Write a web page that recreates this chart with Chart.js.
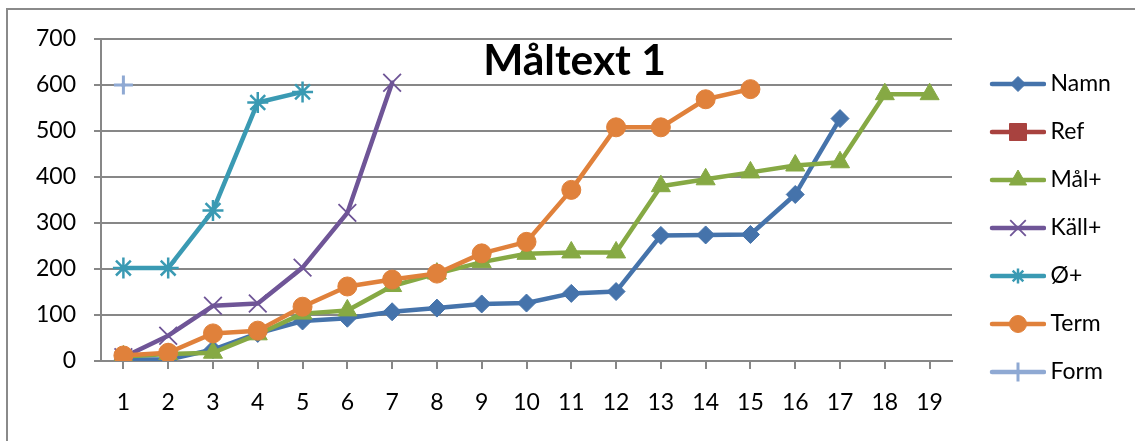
<!DOCTYPE html>
<html>
<head>
<meta charset="utf-8">
<script src="https://cdn.jsdelivr.net/npm/chart.js@4.4.1/dist/chart.umd.min.js"></script>
<style>
  html, body { margin: 0; padding: 0; background: #ffffff; }
  #wrap { width: 1135px; height: 441px; }
</style>
</head>
<body>
<div id="wrap"><canvas id="chart" width="1135" height="441"></canvas></div>
<script>
// Categories along the x axis
const categories = ['1','2','3','4','5','6','7','8','9','10','11','12','13','14','15','16','17','18','19'];

// Series values (null = no value for that category)
const namn     = [3, 3, 25, 60, 87, 93, 107, 115, 124, 126, 147, 151, 273, 274, 275, 362, 527, null, null];
const ref      = [];
const malPlus  = [10, 15, 18, 58, 103, 110, 163, 190, 215, 233, 236, 236, 380, 395, 410, 425, 432, 580, 580];
const kallPlus = [8, 55, 120, 125, 203, 322, 605];
const oPlus    = [202, 202, 327, 562, 585];
const term     = [12, 18, 60, 66, 118, 162, 177, 190, 234, 259, 372, 508, 508, 569, 591];
const form     = [600];

// Y axis range and step
const yMin = 0;
const yMax = 700;
const yStep = 100;

const TITLE = 'Måltext 1';
const FONT = 'Lato';
const FONT_SIZE = 23;
const GRID = '#878787';

const seriesDefs = [
  { label: 'Namn',  data: namn,     color: '#4573AB', style: 'rectRot',  r: 9,    lr: 7.5, bw: 1 },
  { label: 'Ref',   data: ref,      color: '#A8423F', style: 'rect',     r: 12,   lr: 12,  bw: 1 },
  { label: 'Mål+',  data: malPlus,  color: '#86A944', style: 'triangle', r: 11,   lr: 10,  bw: 1 },
  { label: 'Käll+', data: kallPlus, color: '#6F5597', style: 'crossRot', r: 12.5, lr: 11,  bw: 1.8 },
  { label: 'Ø+',    data: oPlus,    color: '#3A9AB3', style: 'star',     r: 10.5, lr: 7.5, bw: 2.5 },
  { label: 'Term',  data: term,     color: '#E0813B', style: 'circle',   r: 9.5,  lr: 8.5, bw: 1 },
  { label: 'Form',  data: form,     color: '#8FA9D3', style: 'cross',    r: 9.5,  lr: 9.5, bw: 3 }
];

// Legend geometry
const LEG_PAD = 25;     // vertical gap between legend rows
const BOX_W = 62;       // reserved width of the legend symbol
const SYM_W = 76, SYM_H = 30, LINE_FROM = 22, LINE_TO = 74, MARK_X = 48;

// Legend symbols: a short line with the series marker in the middle
function legendSymbol(def) {
  const c = document.createElement('canvas');
  c.width = SYM_W; c.height = SYM_H;
  const g = c.getContext('2d');
  g.strokeStyle = def.color;
  g.fillStyle = def.color;
  g.lineWidth = 4.5;
  g.lineCap = 'round';
  g.beginPath();
  g.moveTo(LINE_FROM, SYM_H / 2);
  g.lineTo(LINE_TO, SYM_H / 2);
  g.stroke();
  g.lineWidth = def.bw;
  g.lineCap = 'butt';
  Chart.helpers.drawPoint(g, { pointStyle: def.style, radius: def.lr, rotation: 0, borderWidth: def.bw }, MARK_X, SYM_H / 2);
  return c;
}
const symbols = seriesDefs.map(legendSymbol);

// Right padding so that the plot ends where the legend begins
const measure = document.createElement('canvas').getContext('2d');
measure.font = 'normal ' + FONT_SIZE + 'px ' + FONT;
const maxText = Math.max(...seriesDefs.map(d => measure.measureText(d.label).width));
const PLOT_RIGHT = 952;
const legendWidth = LEG_PAD + BOX_W + FONT_SIZE / 2 + maxText + 10;
const padRight = Math.max(0, 1135 - PLOT_RIGHT - legendWidth);

// Outer frame of the chart object
const framePlugin = {
  id: 'frame',
  beforeDraw(chart) {
    const ctx = chart.ctx;
    ctx.save();
    ctx.fillStyle = '#ffffff';
    ctx.fillRect(0, 0, chart.width, chart.height);
    ctx.strokeStyle = '#8a8a8a';
    ctx.lineWidth = 2;
    ctx.strokeRect(7, 9, chart.width + 20, chart.height + 20);
    ctx.restore();
  }
};

// Title overlaid on the top of the plot area
const titlePlugin = {
  id: 'overlayTitle',
  afterDraw(chart) {
    const ctx = chart.ctx;
    ctx.save();
    ctx.font = 'bold 42.5px ' + FONT;
    ctx.fillStyle = '#000000';
    ctx.textAlign = 'center';
    ctx.textBaseline = 'alphabetic';
    ctx.fillText(TITLE, chart.width / 2 + 7, 75);
    ctx.restore();
  }
};

Chart.defaults.font.family = FONT;
Chart.defaults.font.size = FONT_SIZE;
Chart.defaults.color = '#000000';

const datasets = seriesDefs.map((d, i) => ({
  label: d.label,
  data: d.data,
  borderColor: d.color,
  backgroundColor: d.color,
  borderWidth: 4.5,
  borderJoinStyle: 'round',
  borderCapStyle: 'round',
  tension: 0,
  pointStyle: d.style,
  pointRadius: d.r,
  pointHoverRadius: d.r,
  pointBackgroundColor: d.color,
  pointBorderColor: d.color,
  pointBorderWidth: d.bw,
  order: seriesDefs.length - 1 - i,
  fill: false
}));

new Chart(document.getElementById('chart'), {
  type: 'line',
  data: { labels: categories, datasets },
  plugins: [framePlugin, titlePlugin],
  options: {
    responsive: false,
    animation: false,
    devicePixelRatio: 1,
    layout: { padding: { left: 0, top: 39, right: padRight, bottom: 24 } },
    plugins: {
      title: { display: false },
      tooltip: { enabled: false },
      legend: {
        position: 'right',
        align: 'center',
        labels: {
          usePointStyle: true,
          pointStyleWidth: BOX_W,
          padding: LEG_PAD,
          color: '#000000',
          font: { family: FONT, size: FONT_SIZE },
          sort: (a, b) => a.datasetIndex - b.datasetIndex,
          generateLabels(chart) {
            const items = Chart.defaults.plugins.legend.labels.generateLabels(chart);
            items.forEach(it => { it.pointStyle = symbols[it.datasetIndex]; });
            return items;
          }
        }
      }
    },
    scales: {
      x: {
        type: 'category',
        offset: true,
        grid: { display: true, drawOnChartArea: false, drawTicks: true, tickLength: 8, color: GRID, lineWidth: 2 },
        border: { display: true, color: GRID, width: 2 },
        ticks: { autoSkip: false, maxRotation: 0, padding: 20, color: '#000000', font: { size: FONT_SIZE } },
        afterFit(scale) { scale.height = 56; }
      },
      y: {
        min: yMin,
        max: yMax,
        grid: { color: GRID, lineWidth: 2, drawTicks: true, tickLength: 7 },
        border: { display: true, color: GRID, width: 2 },
        ticks: { stepSize: yStep, padding: 18, color: '#000000', font: { size: FONT_SIZE } },
        afterFit(scale) { scale.width = 101; }
      }
    }
  }
});
</script>
</body>
</html>
